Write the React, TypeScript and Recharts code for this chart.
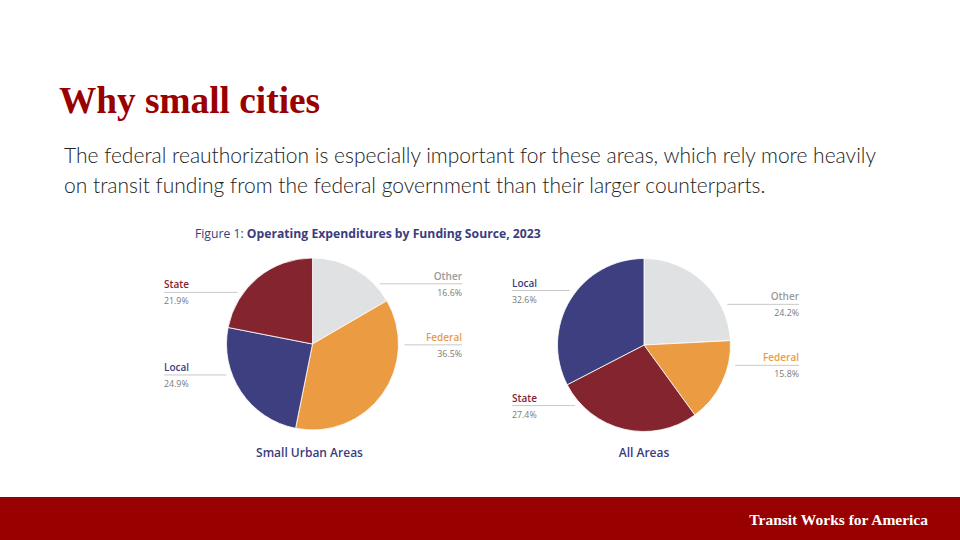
import React from 'react';
import { PieChart, Pie, Cell } from 'recharts';

// ---- Data ----
const SMALL_CATEGORIES = ['Other', 'Federal', 'Local', 'State'];
const SMALL_VALUES = [16.6, 36.5, 24.9, 21.9];

const ALL_CATEGORIES = ['Other', 'Federal', 'State', 'Local'];
const ALL_VALUES = [24.2, 15.8, 27.4, 32.6];

const CHART_TITLES = ['Small Urban Areas', 'All Areas'];

// ---- Styles ----
const COLORS: Record<string, string> = {
  Other: '#e0e1e3',
  Federal: '#eb9c43',
  Local: '#3e3f80',
  State: '#84242e',
};
const LABEL_COLORS: Record<string, string> = {
  Other: '#9a9a9a',
  Federal: '#eb9c43',
  Local: '#3e3f80',
  State: '#84242e',
};

const RED = '#990000';
const NAVY = '#3b3c7c';
const FONT = '"Open Sans", "Noto Sans", sans-serif';

type LabelLayout = {
  cx: number;
  cy: number;
  r: number;
  leftCol: number;
  rightCol: number;
  gap: number;
  rows: Record<string, number>; // label row offset as fraction of radius
};

const SMALL_LAYOUT: LabelLayout = {
  cx: 312.5,
  cy: 344,
  r: 86,
  leftCol: 148.5,
  rightCol: 149.5,
  gap: 6,
  rows: { Other: -0.7, Federal: 0.01, State: -0.6, Local: 0.36 },
};
const ALL_LAYOUT: LabelLayout = {
  cx: 644,
  cy: 345,
  r: 86.5,
  leftCol: 132,
  rightCol: 155,
  gap: 7,
  rows: { Local: -0.63, Other: -0.47, Federal: 0.235, State: 0.7 },
};

const toRows = (cats: string[], vals: number[]) =>
  cats.map((name, i) => ({ name, value: vals[i] }));

const smallData = toRows(SMALL_CATEGORIES, SMALL_VALUES);
const allData = toRows(ALL_CATEGORIES, ALL_VALUES);

const makeLabel = (layout: LabelLayout) => (props: any) => {
  const { name, value, midAngle } = props;
  const { cx, cy, r, gap } = layout;
  const right = Math.cos((-midAngle * Math.PI) / 180) >= 0;
  const dy = (layout.rows[name] ?? 0) * r;
  const y = cy + dy;
  const edge = Math.sqrt(Math.max(r * r - dy * dy, 0)) + gap;
  const x1 = right ? cx + edge : cx - edge;
  const x2 = right ? cx + layout.rightCol : cx - layout.leftCol;
  const anchor = right ? 'end' : 'start';
  return (
    <g>
      <line x1={x1} y1={y} x2={x2} y2={y} stroke="#c9c9c9" strokeWidth={1} />
      <text
        x={x2}
        y={y - 4}
        textAnchor={anchor}
        fontFamily={FONT}
        fontSize={10}
        fontWeight={600}
        fill={LABEL_COLORS[name]}
      >
        {name}
      </text>
      <text
        x={x2}
        y={y + 12}
        textAnchor={anchor}
        fontFamily={FONT}
        fontSize={8.8}
        fill="#7a7a7a"
      >
        {`${Number(value).toFixed(1)}%`}
      </text>
    </g>
  );
};

export default function App() {
  return (
    <div
      style={{
        position: 'absolute',
        left: 0,
        top: 0,
        width: 960,
        height: 540,
        background: '#ffffff',
        overflow: 'hidden',
      }}
    >
      <svg
        width={960}
        height={540}
        style={{ position: 'absolute', left: 0, top: 0 }}
      >
        <text
          x={59}
          y={113}
          fontFamily='"Liberation Serif", "DejaVu Serif", serif'
          fontWeight={700}
          fontSize={37.3}
          fill={RED}
        >
          Why small cities
        </text>
        <text x={64} y={163} fontFamily='Lato, "Open Sans", sans-serif' fontWeight={300} fontSize={21} fill="#222222">
          The federal reauthorization is especially important for these areas, which rely more heavily
        </text>
        <text x={64} y={193} fontFamily='Lato, "Open Sans", sans-serif' fontWeight={300} fontSize={21} fill="#222222">
          on transit funding from the federal government than their larger counterparts.
        </text>
        <text x={195} y={237.5} fontFamily={FONT} fontSize={12.2} fill={NAVY}>
          <tspan fontWeight={400}>Figure 1: </tspan>
          <tspan fontWeight={700}>Operating Expenditures by Funding Source, 2023</tspan>
        </text>
        <text
          x={SMALL_LAYOUT.cx - 3}
          y={457}
          textAnchor="middle"
          fontFamily={FONT}
          fontWeight={600}
          fontSize={12}
          fill={NAVY}
        >
          {CHART_TITLES[0]}
        </text>
        <text
          x={ALL_LAYOUT.cx}
          y={457}
          textAnchor="middle"
          fontFamily={FONT}
          fontWeight={600}
          fontSize={12}
          fill={NAVY}
        >
          {CHART_TITLES[1]}
        </text>
        <rect x={0} y={497} width={960} height={43} fill={RED} />
        <text
          x={928}
          y={524.5}
          textAnchor="end"
          fontFamily='"Liberation Serif", "DejaVu Serif", serif'
          fontWeight={700}
          fontSize={15.5}
          fill="#ffffff"
        >
          Transit Works for America
        </text>
      </svg>
      <div style={{ position: 'absolute', left: 0, top: 0 }}>
        <PieChart width={960} height={540} margin={{ top: 0, right: 0, bottom: 0, left: 0 }}>
          <Pie
            data={smallData}
            dataKey="value"
            nameKey="name"
            cx={SMALL_LAYOUT.cx}
            cy={SMALL_LAYOUT.cy}
            outerRadius={SMALL_LAYOUT.r}
            startAngle={90}
            endAngle={-270}
            stroke="#ffffff"
            strokeWidth={0.8}
            isAnimationActive={false}
            labelLine={false}
            label={makeLabel(SMALL_LAYOUT)}
          >
            {smallData.map((d) => (
              <Cell key={d.name} fill={COLORS[d.name]} />
            ))}
          </Pie>
          <Pie
            data={allData}
            dataKey="value"
            nameKey="name"
            cx={ALL_LAYOUT.cx}
            cy={ALL_LAYOUT.cy}
            outerRadius={ALL_LAYOUT.r}
            startAngle={90}
            endAngle={-270}
            stroke="#ffffff"
            strokeWidth={0.8}
            isAnimationActive={false}
            labelLine={false}
            label={makeLabel(ALL_LAYOUT)}
          >
            {allData.map((d) => (
              <Cell key={d.name} fill={COLORS[d.name]} />
            ))}
          </Pie>
        </PieChart>
      </div>
    </div>
  );
}
